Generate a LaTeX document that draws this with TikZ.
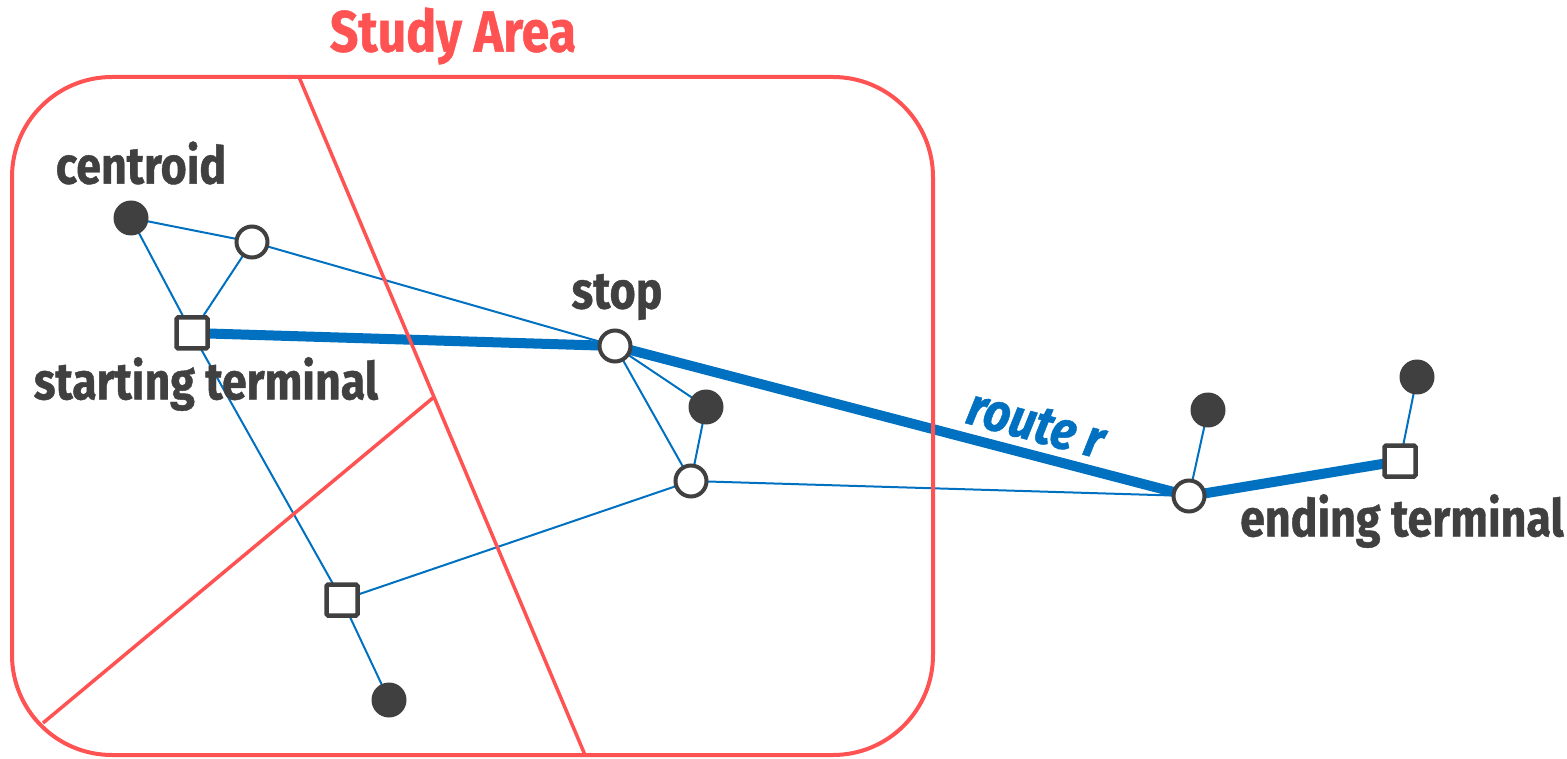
\documentclass[tikz,border=0pt]{standalone}
\usepackage{fontspec}
\setmainfont{Fira Sans}
\newfontfamily\condfont[FakeStretch=0.86,FakeBold=0.8]{Fira Sans}
\usetikzlibrary{calc}
\pgfdeclarelayer{bg}
\pgfsetlayers{bg,main}
\definecolor{areared}{HTML}{FF5252}
\definecolor{routeblue}{HTML}{0070C0}
\definecolor{darkgray}{HTML}{404040}
\tikzset{
  fdot/.style={circle,fill=darkgray,minimum size=35pt,inner sep=0pt},
  odot/.style={circle,draw=darkgray,line width=4pt,fill=white,minimum size=31pt,inner sep=0pt},
  sq/.style={rectangle,draw=darkgray,line width=4.5pt,fill=white,minimum size=31pt,inner sep=0pt,rounded corners=1.5pt},
  thinedge/.style={routeblue,line width=2pt},
  thickedge/.style={routeblue,line width=10pt},
  redline/.style={areared,line width=3.5pt},
  lbl/.style={text=darkgray,font=\condfont\bfseries\fontsize{52}{52}\selectfont,inner sep=0pt},
}
\begin{document}
\begin{tikzpicture}[x=1pt,y=-1pt]
\useasboundingbox (0,0) rectangle (1567,759);
% study area
\draw[redline,line width=4pt,rounded corners=100pt] (12,77) rectangle (933,755);
\coordinate (ra) at (299,77);
\coordinate (rb) at (585,755);
\coordinate (rc) at ($(ra)!0.472!(rb)$);
\coordinate (rd) at (43,723);
\draw[redline] (ra) -- (rb);
\draw[redline] (rc) -- (rd);
\node[text=areared,font=\condfont\bfseries\fontsize{58}{58}\selectfont,inner sep=0pt] (title) at (453,36) {Study Area};

% nodes
\node[fdot] (c1) at (131,218) {};
\node[odot] (s1) at (252,242) {};
\node[sq] (t1) at (192,333) {};
\node[odot] (stop) at (615,346) {};
\node[fdot] (c2) at (706,407) {};
\node[odot] (s2) at (691,481) {};
\node[sq] (t2) at (342,600) {};
\node[fdot] (c3) at (389,700) {};
\node[odot] (s3) at (1189,496) {};
\node[fdot] (c4) at (1208,410) {};
\node[sq] (t3) at (1400,461) {};
\node[fdot] (c5) at (1417,377) {};

% edges
\begin{pgfonlayer}{bg}
\draw[thinedge] (c1.center) -- (s1.center);
\draw[thinedge] (c1.center) -- (t1.center);
\draw[thinedge] (s1.center) -- (t1.center);
\draw[thinedge] (s1.center) -- (stop.center);
\draw[thinedge] (t1.center) -- (t2.center);
\draw[thinedge] (t2.center) -- (c3.center);
\draw[thinedge] (t2.center) -- (s2.center);
\draw[thinedge] (stop.center) -- (s2.center);
\draw[thinedge] (stop.center) -- (c2.center);
\draw[thinedge] (c2.center) -- (s2.center);
\draw[thinedge] (s2.center) -- (s3.center);
\draw[thinedge] (s3.center) -- (c4.center);
\draw[thinedge] (t3.center) -- (c5.center);
\draw[thickedge,line join=round] (t1.center) -- (stop.center) -- (s3.center) -- (t3.center);
\end{pgfonlayer}

% labels
\node[lbl] (lc) at (141,163) {centroid};
\node[lbl] (lt1) at (206,384) {starting terminal};
\node[lbl] (ls) at (617,297) {stop};
\node[lbl] (lt3) at (1402,521) {ending terminal};
\node[text=routeblue,font=\condfont\bfseries\itshape\fontsize{54}{54}\selectfont,inner sep=0pt,rotate=-15] (lr) at (1036,424) {route r};
\end{tikzpicture}
\end{document}
